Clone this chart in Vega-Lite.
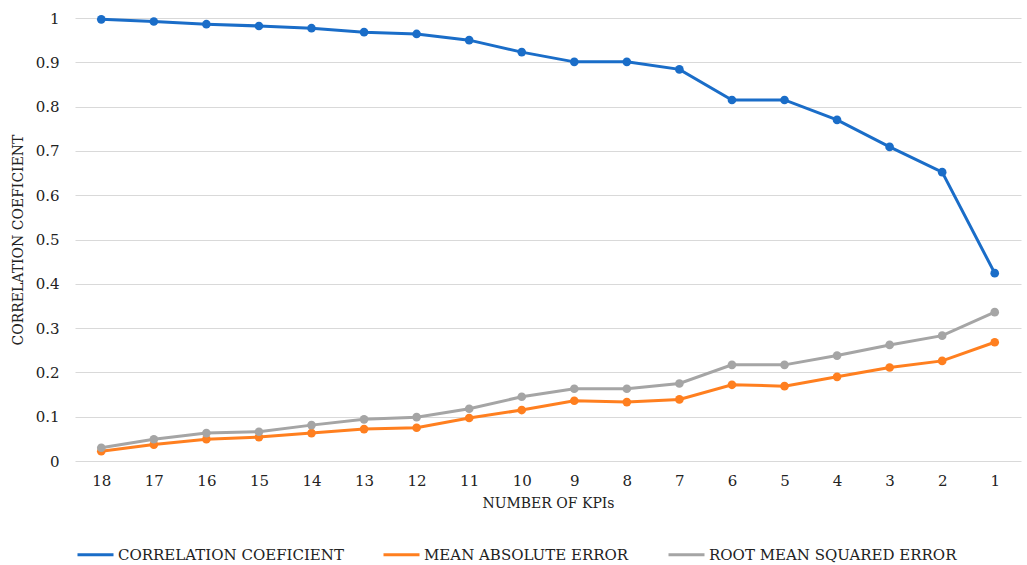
{
  "$schema": "https://vega.github.io/schema/vega-lite/v6.json",
  "width": 946,
  "height": 443,
  "autosize": {"type": "none"},
  "padding": {"left": 75, "top": 18, "right": 6, "bottom": 104},
  "background": "white",
  "config": {
    "font": "DejaVu Serif",
    "axis": {"labelFont": "DejaVu Serif", "titleFont": "DejaVu Serif"},
    "legend": {"labelFont": "DejaVu Serif", "titleFont": "DejaVu Serif"},
    "view": {"stroke": null}
  },
  "data": {
    "values": [
      {"k": "18", "o": 1, "s": "CORRELATION COEFICIENT", "v": 0.997},
      {"k": "17", "o": 2, "s": "CORRELATION COEFICIENT", "v": 0.992},
      {"k": "16", "o": 3, "s": "CORRELATION COEFICIENT", "v": 0.986},
      {"k": "15", "o": 4, "s": "CORRELATION COEFICIENT", "v": 0.982},
      {"k": "14", "o": 5, "s": "CORRELATION COEFICIENT", "v": 0.977},
      {"k": "13", "o": 6, "s": "CORRELATION COEFICIENT", "v": 0.968},
      {"k": "12", "o": 7, "s": "CORRELATION COEFICIENT", "v": 0.964},
      {"k": "11", "o": 8, "s": "CORRELATION COEFICIENT", "v": 0.950},
      {"k": "10", "o": 9, "s": "CORRELATION COEFICIENT", "v": 0.923},
      {"k": "9", "o": 10, "s": "CORRELATION COEFICIENT", "v": 0.901},
      {"k": "8", "o": 11, "s": "CORRELATION COEFICIENT", "v": 0.901},
      {"k": "7", "o": 12, "s": "CORRELATION COEFICIENT", "v": 0.884},
      {"k": "6", "o": 13, "s": "CORRELATION COEFICIENT", "v": 0.815},
      {"k": "5", "o": 14, "s": "CORRELATION COEFICIENT", "v": 0.815},
      {"k": "4", "o": 15, "s": "CORRELATION COEFICIENT", "v": 0.770},
      {"k": "3", "o": 16, "s": "CORRELATION COEFICIENT", "v": 0.709},
      {"k": "2", "o": 17, "s": "CORRELATION COEFICIENT", "v": 0.652},
      {"k": "1", "o": 18, "s": "CORRELATION COEFICIENT", "v": 0.424},
      {"k": "18", "o": 1, "s": "MEAN ABSOLUTE ERROR", "v": 0.022},
      {"k": "17", "o": 2, "s": "MEAN ABSOLUTE ERROR", "v": 0.037},
      {"k": "16", "o": 3, "s": "MEAN ABSOLUTE ERROR", "v": 0.049},
      {"k": "15", "o": 4, "s": "MEAN ABSOLUTE ERROR", "v": 0.054},
      {"k": "14", "o": 5, "s": "MEAN ABSOLUTE ERROR", "v": 0.063},
      {"k": "13", "o": 6, "s": "MEAN ABSOLUTE ERROR", "v": 0.072},
      {"k": "12", "o": 7, "s": "MEAN ABSOLUTE ERROR", "v": 0.075},
      {"k": "11", "o": 8, "s": "MEAN ABSOLUTE ERROR", "v": 0.097},
      {"k": "10", "o": 9, "s": "MEAN ABSOLUTE ERROR", "v": 0.115},
      {"k": "9", "o": 10, "s": "MEAN ABSOLUTE ERROR", "v": 0.136},
      {"k": "8", "o": 11, "s": "MEAN ABSOLUTE ERROR", "v": 0.133},
      {"k": "7", "o": 12, "s": "MEAN ABSOLUTE ERROR", "v": 0.139},
      {"k": "6", "o": 13, "s": "MEAN ABSOLUTE ERROR", "v": 0.172},
      {"k": "5", "o": 14, "s": "MEAN ABSOLUTE ERROR", "v": 0.169},
      {"k": "4", "o": 15, "s": "MEAN ABSOLUTE ERROR", "v": 0.190},
      {"k": "3", "o": 16, "s": "MEAN ABSOLUTE ERROR", "v": 0.211},
      {"k": "2", "o": 17, "s": "MEAN ABSOLUTE ERROR", "v": 0.226},
      {"k": "1", "o": 18, "s": "MEAN ABSOLUTE ERROR", "v": 0.268},
      {"k": "18", "o": 1, "s": "ROOT MEAN SQUARED ERROR", "v": 0.030},
      {"k": "17", "o": 2, "s": "ROOT MEAN SQUARED ERROR", "v": 0.049},
      {"k": "16", "o": 3, "s": "ROOT MEAN SQUARED ERROR", "v": 0.063},
      {"k": "15", "o": 4, "s": "ROOT MEAN SQUARED ERROR", "v": 0.066},
      {"k": "14", "o": 5, "s": "ROOT MEAN SQUARED ERROR", "v": 0.081},
      {"k": "13", "o": 6, "s": "ROOT MEAN SQUARED ERROR", "v": 0.094},
      {"k": "12", "o": 7, "s": "ROOT MEAN SQUARED ERROR", "v": 0.099},
      {"k": "11", "o": 8, "s": "ROOT MEAN SQUARED ERROR", "v": 0.118},
      {"k": "10", "o": 9, "s": "ROOT MEAN SQUARED ERROR", "v": 0.145},
      {"k": "9", "o": 10, "s": "ROOT MEAN SQUARED ERROR", "v": 0.163},
      {"k": "8", "o": 11, "s": "ROOT MEAN SQUARED ERROR", "v": 0.163},
      {"k": "7", "o": 12, "s": "ROOT MEAN SQUARED ERROR", "v": 0.175},
      {"k": "6", "o": 13, "s": "ROOT MEAN SQUARED ERROR", "v": 0.217},
      {"k": "5", "o": 14, "s": "ROOT MEAN SQUARED ERROR", "v": 0.217},
      {"k": "4", "o": 15, "s": "ROOT MEAN SQUARED ERROR", "v": 0.238},
      {"k": "3", "o": 16, "s": "ROOT MEAN SQUARED ERROR", "v": 0.262},
      {"k": "2", "o": 17, "s": "ROOT MEAN SQUARED ERROR", "v": 0.283},
      {"k": "1", "o": 18, "s": "ROOT MEAN SQUARED ERROR", "v": 0.336}
    ]
  },
  "mark": {"type": "line", "strokeWidth": 3, "point": {"size": 75, "filled": true}},
  "encoding": {
    "x": {
      "field": "k",
      "type": "ordinal",
      "sort": {"field": "o", "op": "min"},
      "scale": {"type": "point", "padding": 0.5},
      "axis": {
        "title": "NUMBER OF KPIs",
        "labelAngle": 0,
        "labelFontSize": 15,
        "labelColor": "#222222",
        "labelPadding": 12,
        "titleFontSize": 14,
        "titleFontWeight": "normal",
        "titleColor": "#222222",
        "titlePadding": 8,
        "domain": false,
        "ticks": false,
        "grid": false
      }
    },
    "y": {
      "field": "v",
      "type": "quantitative",
      "scale": {"domain": [0, 1], "nice": false},
      "axis": {
        "title": "CORRELATION COEFICIENT",
        "values": [0, 0.1, 0.2, 0.3, 0.4, 0.5, 0.6, 0.7, 0.8, 0.9, 1],
        "format": ".1~f",
        "labelFontSize": 15,
        "labelColor": "#222222",
        "labelPadding": 16,
        "titleFontSize": 14,
        "titleFontWeight": "normal",
        "titleColor": "#222222",
        "titlePadding": 10,
        "domain": false,
        "ticks": false,
        "grid": true,
        "gridColor": "#d9d9d9",
        "gridWidth": 1.2
      }
    },
    "color": {
      "field": "s",
      "type": "nominal",
      "scale": {
        "domain": ["CORRELATION COEFICIENT", "MEAN ABSOLUTE ERROR", "ROOT MEAN SQUARED ERROR"],
        "range": ["#1a6dc8", "#ff7f1f", "#a5a5a5"]
      },
      "legend": {
        "title": null,
        "orient": "none",
        "direction": "horizontal",
        "legendX": 1,
        "legendY": 517,
        "labelFontSize": 15,
        "labelLimit": 400,
        "labelColor": "#222222",
        "labelOffset": 3,
        "columnPadding": 33,
        "symbolType": "stroke",
        "symbolSize": 1296,
        "symbolStrokeWidth": 3
      }
    }
  }
}
